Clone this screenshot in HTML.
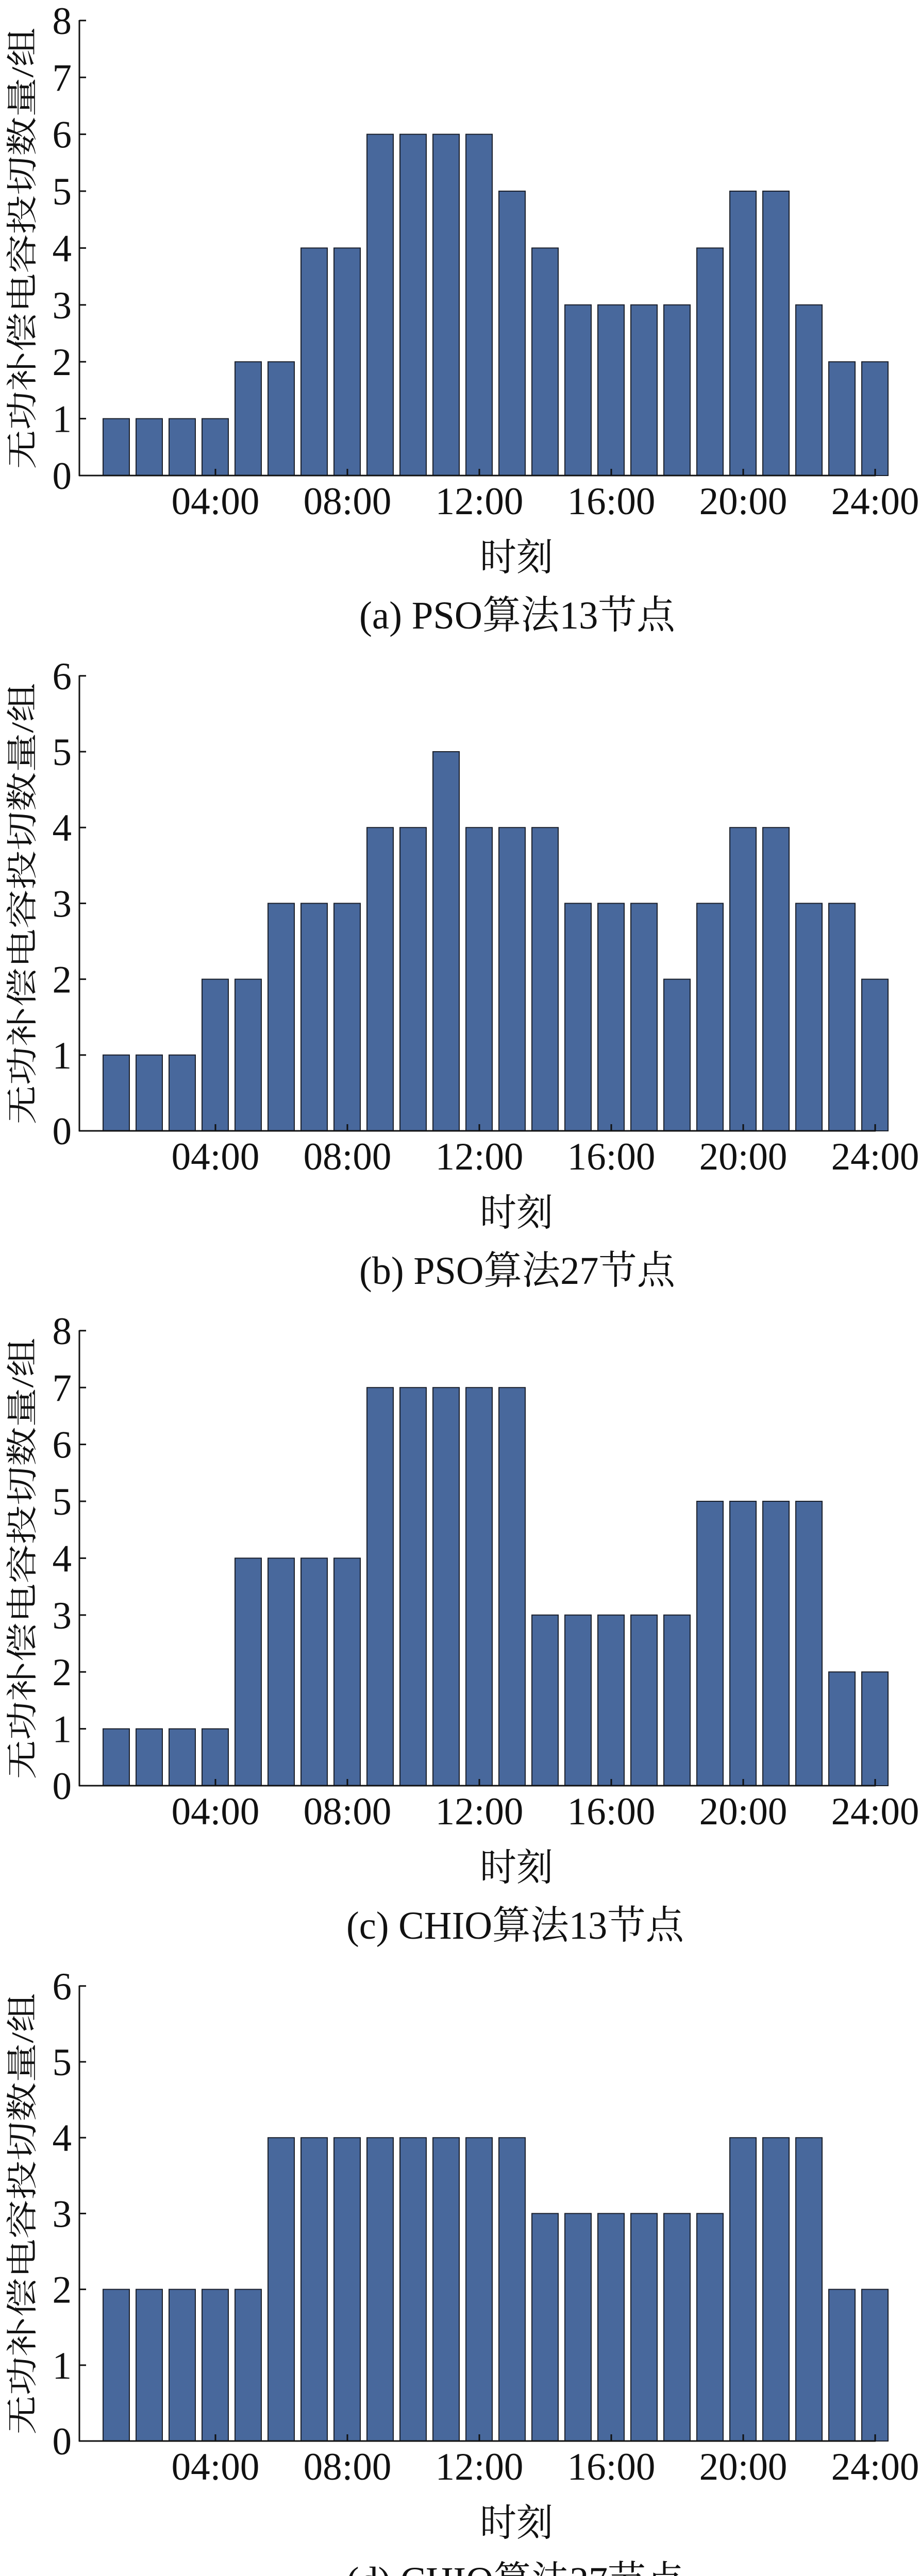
<!DOCTYPE html>
<html><head><meta charset="utf-8"><style>
html,body{margin:0;padding:0;background:#fff;overflow:hidden;width:1785px;height:5054px;}
svg{display:block;overflow:hidden;}
text{font-family:"Liberation Serif","Noto Serif CJK SC",serif;fill:#111;}
.bar{fill:#48689c;stroke:#1a1f2a;stroke-width:2;}
</style></head><body>
<svg width="1785" height="5054" viewBox="0 0 1785 5054" xmlns="http://www.w3.org/2000/svg">
<defs>
<g id="xaxis">
<line x1="153" y1="0" x2="1699" y2="0" stroke="#111" stroke-width="3"/>
<g stroke="#111" stroke-width="3">
<line x1="418" y1="0" x2="418" y2="-13"/><line x1="674" y1="0" x2="674" y2="-13"/>
<line x1="930" y1="0" x2="930" y2="-13"/><line x1="1186" y1="0" x2="1186" y2="-13"/>
<line x1="1442" y1="0" x2="1442" y2="-13"/><line x1="1698" y1="0" x2="1698" y2="-13"/>
</g>
<g font-size="75" text-anchor="middle">
<text x="418" y="75">04:00</text><text x="674" y="75">08:00</text><text x="930" y="75">12:00</text>
<text x="1186" y="75">16:00</text><text x="1442" y="75">20:00</text><text x="1698" y="75">24:00</text>
</g>
<text x="1002" y="184" font-size="74" text-anchor="middle" textLength="142" lengthAdjust="spacingAndGlyphs">时刻</text>
<line x1="154" y1="1" x2="154" y2="-884" stroke="#111" stroke-width="3"/>
<g transform="translate(64,-441) rotate(-90) scale(1,0.8)">
<text x="0" y="0" font-size="76" text-anchor="middle">无功补偿电容投切数量/组</text>
</g>
</g>
<g id="y8">
<g stroke="#111" stroke-width="3">
<line x1="154" y1="-110.4" x2="167" y2="-110.4"/><line x1="154" y1="-220.8" x2="167" y2="-220.8"/>
<line x1="154" y1="-331.2" x2="167" y2="-331.2"/><line x1="154" y1="-441.6" x2="167" y2="-441.6"/>
<line x1="154" y1="-552" x2="167" y2="-552"/><line x1="154" y1="-662.4" x2="167" y2="-662.4"/>
<line x1="154" y1="-772.8" x2="167" y2="-772.8"/><line x1="154" y1="-883.2" x2="167" y2="-883.2"/>
</g>
<g font-size="75" text-anchor="end">
<text x="139" y="26">0</text><text x="139" y="-84.4">1</text><text x="139" y="-194.8">2</text>
<text x="139" y="-305.2">3</text><text x="139" y="-415.6">4</text><text x="139" y="-526">5</text>
<text x="139" y="-636.4">6</text><text x="139" y="-746.8">7</text><text x="139" y="-857.2">8</text>
</g>
</g>
<g id="y6">
<g stroke="#111" stroke-width="3">
<line x1="154" y1="-147.2" x2="167" y2="-147.2"/><line x1="154" y1="-294.4" x2="167" y2="-294.4"/>
<line x1="154" y1="-441.6" x2="167" y2="-441.6"/><line x1="154" y1="-588.8" x2="167" y2="-588.8"/>
<line x1="154" y1="-736" x2="167" y2="-736"/><line x1="154" y1="-883.2" x2="167" y2="-883.2"/>
</g>
<g font-size="75" text-anchor="end">
<text x="139" y="26">0</text><text x="139" y="-121.2">1</text><text x="139" y="-268.4">2</text>
<text x="139" y="-415.6">3</text><text x="139" y="-562.8">4</text><text x="139" y="-710">5</text>
<text x="139" y="-857.2">6</text>
</g>
</g>
</defs>

<!-- ===== Chart (a) ===== -->
<g transform="translate(0,923)">
<g transform="scale(1,-110.4)">
<rect class="bar" vector-effect="non-scaling-stroke" x="200" y="0" width="51" height="1"/>
<rect class="bar" vector-effect="non-scaling-stroke" x="264" y="0" width="51" height="1"/>
<rect class="bar" vector-effect="non-scaling-stroke" x="328" y="0" width="51" height="1"/>
<rect class="bar" vector-effect="non-scaling-stroke" x="392" y="0" width="51" height="1"/>
<rect class="bar" vector-effect="non-scaling-stroke" x="456" y="0" width="51" height="2"/>
<rect class="bar" vector-effect="non-scaling-stroke" x="520" y="0" width="51" height="2"/>
<rect class="bar" vector-effect="non-scaling-stroke" x="584" y="0" width="51" height="4"/>
<rect class="bar" vector-effect="non-scaling-stroke" x="648" y="0" width="51" height="4"/>
<rect class="bar" vector-effect="non-scaling-stroke" x="712" y="0" width="51" height="6"/>
<rect class="bar" vector-effect="non-scaling-stroke" x="776" y="0" width="51" height="6"/>
<rect class="bar" vector-effect="non-scaling-stroke" x="840" y="0" width="51" height="6"/>
<rect class="bar" vector-effect="non-scaling-stroke" x="904" y="0" width="51" height="6"/>
<rect class="bar" vector-effect="non-scaling-stroke" x="968" y="0" width="51" height="5"/>
<rect class="bar" vector-effect="non-scaling-stroke" x="1032" y="0" width="51" height="4"/>
<rect class="bar" vector-effect="non-scaling-stroke" x="1096" y="0" width="51" height="3"/>
<rect class="bar" vector-effect="non-scaling-stroke" x="1160" y="0" width="51" height="3"/>
<rect class="bar" vector-effect="non-scaling-stroke" x="1224" y="0" width="51" height="3"/>
<rect class="bar" vector-effect="non-scaling-stroke" x="1288" y="0" width="51" height="3"/>
<rect class="bar" vector-effect="non-scaling-stroke" x="1352" y="0" width="51" height="4"/>
<rect class="bar" vector-effect="non-scaling-stroke" x="1416" y="0" width="51" height="5"/>
<rect class="bar" vector-effect="non-scaling-stroke" x="1480" y="0" width="51" height="5"/>
<rect class="bar" vector-effect="non-scaling-stroke" x="1544" y="0" width="51" height="3"/>
<rect class="bar" vector-effect="non-scaling-stroke" x="1608" y="0" width="51" height="2"/>
<rect class="bar" vector-effect="non-scaling-stroke" x="1672" y="0" width="51" height="2"/>
</g>
<use href="#xaxis"/><use href="#y8"/>
<text x="697" y="297" font-size="76" textLength="613" lengthAdjust="spacingAndGlyphs">(a) PSO算法13节点</text>
</g>

<!-- ===== Chart (b) ===== -->
<g transform="translate(0,2195)">
<g transform="scale(1,-147.2)">
<rect class="bar" vector-effect="non-scaling-stroke" x="200" y="0" width="51" height="1"/>
<rect class="bar" vector-effect="non-scaling-stroke" x="264" y="0" width="51" height="1"/>
<rect class="bar" vector-effect="non-scaling-stroke" x="328" y="0" width="51" height="1"/>
<rect class="bar" vector-effect="non-scaling-stroke" x="392" y="0" width="51" height="2"/>
<rect class="bar" vector-effect="non-scaling-stroke" x="456" y="0" width="51" height="2"/>
<rect class="bar" vector-effect="non-scaling-stroke" x="520" y="0" width="51" height="3"/>
<rect class="bar" vector-effect="non-scaling-stroke" x="584" y="0" width="51" height="3"/>
<rect class="bar" vector-effect="non-scaling-stroke" x="648" y="0" width="51" height="3"/>
<rect class="bar" vector-effect="non-scaling-stroke" x="712" y="0" width="51" height="4"/>
<rect class="bar" vector-effect="non-scaling-stroke" x="776" y="0" width="51" height="4"/>
<rect class="bar" vector-effect="non-scaling-stroke" x="840" y="0" width="51" height="5"/>
<rect class="bar" vector-effect="non-scaling-stroke" x="904" y="0" width="51" height="4"/>
<rect class="bar" vector-effect="non-scaling-stroke" x="968" y="0" width="51" height="4"/>
<rect class="bar" vector-effect="non-scaling-stroke" x="1032" y="0" width="51" height="4"/>
<rect class="bar" vector-effect="non-scaling-stroke" x="1096" y="0" width="51" height="3"/>
<rect class="bar" vector-effect="non-scaling-stroke" x="1160" y="0" width="51" height="3"/>
<rect class="bar" vector-effect="non-scaling-stroke" x="1224" y="0" width="51" height="3"/>
<rect class="bar" vector-effect="non-scaling-stroke" x="1288" y="0" width="51" height="2"/>
<rect class="bar" vector-effect="non-scaling-stroke" x="1352" y="0" width="51" height="3"/>
<rect class="bar" vector-effect="non-scaling-stroke" x="1416" y="0" width="51" height="4"/>
<rect class="bar" vector-effect="non-scaling-stroke" x="1480" y="0" width="51" height="4"/>
<rect class="bar" vector-effect="non-scaling-stroke" x="1544" y="0" width="51" height="3"/>
<rect class="bar" vector-effect="non-scaling-stroke" x="1608" y="0" width="51" height="3"/>
<rect class="bar" vector-effect="non-scaling-stroke" x="1672" y="0" width="51" height="2"/>
</g>
<use href="#xaxis"/><use href="#y6"/>
<text x="697" y="297" font-size="76" textLength="613" lengthAdjust="spacingAndGlyphs">(b) PSO算法27节点</text>
</g>

<!-- ===== Chart (c) ===== -->
<g transform="translate(0,3466)">
<g transform="scale(1,-110.4)">
<rect class="bar" vector-effect="non-scaling-stroke" x="200" y="0" width="51" height="1"/>
<rect class="bar" vector-effect="non-scaling-stroke" x="264" y="0" width="51" height="1"/>
<rect class="bar" vector-effect="non-scaling-stroke" x="328" y="0" width="51" height="1"/>
<rect class="bar" vector-effect="non-scaling-stroke" x="392" y="0" width="51" height="1"/>
<rect class="bar" vector-effect="non-scaling-stroke" x="456" y="0" width="51" height="4"/>
<rect class="bar" vector-effect="non-scaling-stroke" x="520" y="0" width="51" height="4"/>
<rect class="bar" vector-effect="non-scaling-stroke" x="584" y="0" width="51" height="4"/>
<rect class="bar" vector-effect="non-scaling-stroke" x="648" y="0" width="51" height="4"/>
<rect class="bar" vector-effect="non-scaling-stroke" x="712" y="0" width="51" height="7"/>
<rect class="bar" vector-effect="non-scaling-stroke" x="776" y="0" width="51" height="7"/>
<rect class="bar" vector-effect="non-scaling-stroke" x="840" y="0" width="51" height="7"/>
<rect class="bar" vector-effect="non-scaling-stroke" x="904" y="0" width="51" height="7"/>
<rect class="bar" vector-effect="non-scaling-stroke" x="968" y="0" width="51" height="7"/>
<rect class="bar" vector-effect="non-scaling-stroke" x="1032" y="0" width="51" height="3"/>
<rect class="bar" vector-effect="non-scaling-stroke" x="1096" y="0" width="51" height="3"/>
<rect class="bar" vector-effect="non-scaling-stroke" x="1160" y="0" width="51" height="3"/>
<rect class="bar" vector-effect="non-scaling-stroke" x="1224" y="0" width="51" height="3"/>
<rect class="bar" vector-effect="non-scaling-stroke" x="1288" y="0" width="51" height="3"/>
<rect class="bar" vector-effect="non-scaling-stroke" x="1352" y="0" width="51" height="5"/>
<rect class="bar" vector-effect="non-scaling-stroke" x="1416" y="0" width="51" height="5"/>
<rect class="bar" vector-effect="non-scaling-stroke" x="1480" y="0" width="51" height="5"/>
<rect class="bar" vector-effect="non-scaling-stroke" x="1544" y="0" width="51" height="5"/>
<rect class="bar" vector-effect="non-scaling-stroke" x="1608" y="0" width="51" height="2"/>
<rect class="bar" vector-effect="non-scaling-stroke" x="1672" y="0" width="51" height="2"/>
</g>
<use href="#xaxis"/><use href="#y8"/>
<text x="672" y="297" font-size="76" textLength="655" lengthAdjust="spacingAndGlyphs">(c) CHIO算法13节点</text>
</g>

<!-- ===== Chart (d) ===== -->
<g transform="translate(0,4738)">
<g transform="scale(1,-147.2)">
<rect class="bar" vector-effect="non-scaling-stroke" x="200" y="0" width="51" height="2"/>
<rect class="bar" vector-effect="non-scaling-stroke" x="264" y="0" width="51" height="2"/>
<rect class="bar" vector-effect="non-scaling-stroke" x="328" y="0" width="51" height="2"/>
<rect class="bar" vector-effect="non-scaling-stroke" x="392" y="0" width="51" height="2"/>
<rect class="bar" vector-effect="non-scaling-stroke" x="456" y="0" width="51" height="2"/>
<rect class="bar" vector-effect="non-scaling-stroke" x="520" y="0" width="51" height="4"/>
<rect class="bar" vector-effect="non-scaling-stroke" x="584" y="0" width="51" height="4"/>
<rect class="bar" vector-effect="non-scaling-stroke" x="648" y="0" width="51" height="4"/>
<rect class="bar" vector-effect="non-scaling-stroke" x="712" y="0" width="51" height="4"/>
<rect class="bar" vector-effect="non-scaling-stroke" x="776" y="0" width="51" height="4"/>
<rect class="bar" vector-effect="non-scaling-stroke" x="840" y="0" width="51" height="4"/>
<rect class="bar" vector-effect="non-scaling-stroke" x="904" y="0" width="51" height="4"/>
<rect class="bar" vector-effect="non-scaling-stroke" x="968" y="0" width="51" height="4"/>
<rect class="bar" vector-effect="non-scaling-stroke" x="1032" y="0" width="51" height="3"/>
<rect class="bar" vector-effect="non-scaling-stroke" x="1096" y="0" width="51" height="3"/>
<rect class="bar" vector-effect="non-scaling-stroke" x="1160" y="0" width="51" height="3"/>
<rect class="bar" vector-effect="non-scaling-stroke" x="1224" y="0" width="51" height="3"/>
<rect class="bar" vector-effect="non-scaling-stroke" x="1288" y="0" width="51" height="3"/>
<rect class="bar" vector-effect="non-scaling-stroke" x="1352" y="0" width="51" height="3"/>
<rect class="bar" vector-effect="non-scaling-stroke" x="1416" y="0" width="51" height="4"/>
<rect class="bar" vector-effect="non-scaling-stroke" x="1480" y="0" width="51" height="4"/>
<rect class="bar" vector-effect="non-scaling-stroke" x="1544" y="0" width="51" height="4"/>
<rect class="bar" vector-effect="non-scaling-stroke" x="1608" y="0" width="51" height="2"/>
<rect class="bar" vector-effect="non-scaling-stroke" x="1672" y="0" width="51" height="2"/>
</g>
<use href="#xaxis"/><use href="#y6"/>
<text x="672" y="297" font-size="76" textLength="655" lengthAdjust="spacingAndGlyphs">(d) CHIO算法27节点</text>
</g>
</svg>
</body></html>
